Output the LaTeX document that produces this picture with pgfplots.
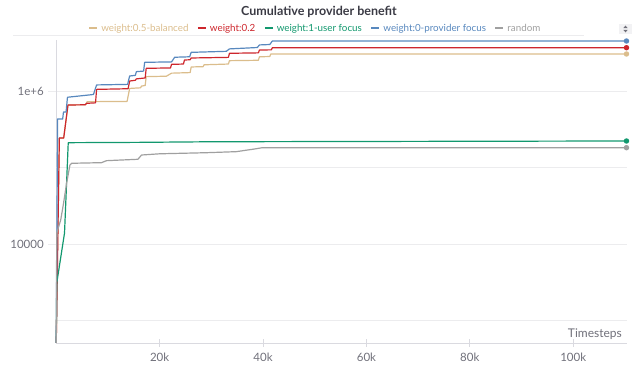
\documentclass[border=0pt]{standalone}
\usepackage{fontspec}
\setmainfont{Lato}
\usepackage{pgfplots}
\pgfplotsset{compat=1.18}

\definecolor{tanc}{RGB}{219,189,140}
\definecolor{redc}{RGB}{205,38,44}
\definecolor{greenc}{RGB}{18,152,110}
\definecolor{bluec}{RGB}{88,136,190}
\definecolor{grayc}{RGB}{160,160,160}
\definecolor{gridc}{RGB}{236,236,238}
\definecolor{axisc}{RGB}{218,218,224}
\definecolor{tickc}{RGB}{112,112,122}
\definecolor{titlec}{RGB}{58,58,68}
\definecolor{btnc}{RGB}{242,242,244}

\begin{document}
\begin{tikzpicture}[x=1pt,y=1pt]
\path[use as bounding box] (0,0) rectangle (638,371);

% title
\node[font=\fontsize{12.5}{14}\selectfont\bfseries, text=titlec] at (319,359.5) {Cumulative provider benefit};

% thin rule under the legend and the small sort button
\draw[gridc, line width=0.8pt] (13,336) -- (584,336);
\fill[btnc] (619.3,337) rectangle (631.7,347);
\fill[tickc] (623.3,342.8) -- (627.7,342.8) -- (625.5,345.4) -- cycle;
\fill[tickc] (623.3,341.2) -- (627.7,341.2) -- (625.5,338.6) -- cycle;

\begin{axis}[
  at={(56.25pt,28pt)}, anchor=south west,
  scale only axis, width=570.75pt, height=303pt,
  ymode=log,
  xmin=0, xmax=110400, ymin=508, ymax=4.64e6,
  axis x line=bottom, axis y line=left,
  axis line style={draw=axisc, line width=0.9pt, -},
  clip=false,
  scaled x ticks=false,
  xtick={20000,40000,60000,80000,100000},
  xticklabels={20k,40k,60k,80k,100k},
  ytick={10000,1000000},
  yticklabels={10000,1e+6},
  extra y ticks={1000,100000},
  extra y tick labels={},
  extra y tick style={major tick length=0pt},
  ymajorgrids,
  major grid style={draw=gridc, line width=0.8pt},
  xtick style={draw=axisc, line width=0.8pt},
  ytick style={draw=gridc, line width=0.8pt},
  xtick align=center, ytick align=outside,
  major tick length=8pt,
  minor tick num=0,
  tick label style={font=\fontsize{11.5}{13}\selectfont, text=tickc},
  xticklabel style={yshift=-2.5pt},
  yticklabel style={xshift=-1pt},
  legend style={at={(0.4535,1.038)}, anchor=center, draw=none, fill=none,
    legend columns=5, font=\fontsize{9.8}{12}\selectfont,
    /tikz/every odd column/.append style={column sep=1.5pt},
    /tikz/every even column/.append style={column sep=7pt},
    nodes={inner sep=1.5pt}},
  legend image code/.code={\draw[#1, line width=2pt] (0pt,0pt) -- (8pt,0pt);},
  every axis plot/.append style={line width=1.2pt, line join=round},
]

\addplot[tanc] coordinates {
  (0,508) (600,2.43e5) (1440,2.43e5) (2270,6.56e5) (5600,6.6e5) (6000,7.25e5)
  (13700,7.3e5) (14200,1.08e6) (16300,1.1e6) (16500,1.16e6) (17200,1.18e6)
  (17400,1.54e6) (21300,1.56e6) (22300,1.71e6) (25900,1.74e6) (26100,2.06e6)
  (28400,2.08e6) (28600,2.2e6) (33300,2.25e6) (33500,2.49e6) (39100,2.52e6)
  (39300,2.8e6) (41300,2.82e6) (41500,3.045e6) (110300,3.045e6)
};
\addlegendentry{\textcolor{tanc}{weight:0.5-balanced}}

\addplot[redc] coordinates {
  (0,508) (600,2.43e5) (1440,2.43e5) (2270,6.56e5) (5600,6.6e5) (5900,6.9e5)
  (7600,7.0e5) (7800,1.05e6) (13900,1.07e6) (14200,1.35e6) (15300,1.38e6)
  (15500,1.44e6) (17200,1.48e6) (17400,1.98e6) (22100,2.0e6) (22300,2.23e6)
  (24600,2.25e6) (24800,2.54e6) (25900,2.56e6) (26100,2.7e6) (33300,2.75e6)
  (33500,3.11e6) (39100,3.15e6) (39300,3.43e6) (41600,3.45e6) (41800,3.68e6)
  (110300,3.68e6)
};
\addlegendentry{\textcolor{redc}{weight:0.2}}

\addplot[greenc] coordinates {
  (0,508) (90,3060) (1600,1.39e4) (2320,2.11e5) (15800,2.13e5) (30000,2.17e5)
  (110300,2.22e5)
};
\addlegendentry{\textcolor{greenc}{weight:1-user focus}}

\addplot[bluec] coordinates {
  (0,508) (250,4.3e5) (1240,4.3e5) (1400,5.3e5) (1900,5.3e5) (2170,8.28e5)
  (7200,9.0e5) (7800,1.2e6) (13800,1.22e6) (14200,1.57e6) (15300,1.6e6)
  (15500,1.79e6) (16900,1.82e6) (17100,2.37e6) (22300,2.4e6) (22900,2.76e6)
  (25800,2.8e6) (26100,3.2e6) (32900,3.3e6) (33500,3.55e6) (38900,3.7e6)
  (39300,4.0e6) (41300,4.05e6) (41800,4.5e6) (110300,4.5e6)
};
\addlegendentry{\textcolor{bluec}{weight:0-provider focus}}

\addplot[grayc] coordinates {
  (0,508) (90,1.38e4) (860,2.06e4) (1360,3.24e4) (2000,6.2e4) (2650,1.08e5)
  (2980,1.135e5) (8760,1.156e5) (9730,1.228e5) (15800,1.28e5) (16500,1.456e5)
  (20000,1.51e5) (29000,1.56e5) (34800,1.61e5) (38000,1.73e5) (39900,1.815e5)
  (110300,1.815e5)
};
\addlegendentry{\textcolor{grayc}{random}}

% end-of-run markers
\addplot[forget plot, only marks, mark=*, mark size=2.1pt, tanc] coordinates {(110300,3.045e6)};
\addplot[forget plot, only marks, mark=*, mark size=2.1pt, redc] coordinates {(110300,3.68e6)};
\addplot[forget plot, only marks, mark=*, mark size=2.1pt, greenc] coordinates {(110300,2.22e5)};
\addplot[forget plot, only marks, mark=*, mark size=2.1pt, bluec] coordinates {(110300,4.5e6)};
\addplot[forget plot, only marks, mark=*, mark size=2.1pt, grayc] coordinates {(110300,1.815e5)};
\end{axis}

\node[anchor=base east, font=\fontsize{12}{14}\selectfont, text=tickc, inner sep=0pt] at (622,33) {Timesteps};
\end{tikzpicture}
\end{document}
